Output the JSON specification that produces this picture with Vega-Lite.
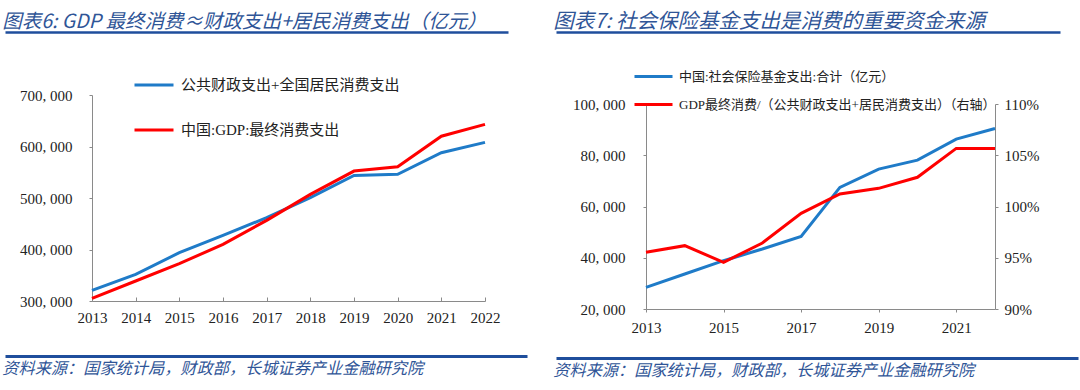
{
  "$schema": "https://vega.github.io/schema/vega-lite/v6.json",
  "background": "white",
  "padding": {"left": 2, "top": 11, "right": 5, "bottom": 0},
  "config": {
    "view": {"stroke": null},
    "axis": {"domainColor": "#8a8a8a", "tickColor": "#8a8a8a", "grid": false, "labelFont": "Liberation Serif", "labelFontSize": 15, "labelColor": "#222222", "title": null, "tickSize": 3, "labelFlush": false, "labelOverlap": false},
    "legend": {"labelFont": "Liberation Serif, Noto Sans CJK SC", "labelColor": "#222222", "symbolType": "stroke", "symbolStrokeWidth": 3, "title": null, "labelLimit": 500},
    "title": {"font": "Noto Sans CJK SC", "fontStyle": "italic", "fontWeight": "normal", "color": "#2F5597", "anchor": "start"}
  },
  "datasets": {
    "left": [
      {"year": 2013, "series": "公共财政支出+全国居民消费支出", "value": 320700},
      {"year": 2014, "series": "公共财政支出+全国居民消费支出", "value": 351800},
      {"year": 2015, "series": "公共财政支出+全国居民消费支出", "value": 393800},
      {"year": 2016, "series": "公共财政支出+全国居民消费支出", "value": 427500},
      {"year": 2017, "series": "公共财政支出+全国居民消费支出", "value": 461800},
      {"year": 2018, "series": "公共财政支出+全国居民消费支出", "value": 500600},
      {"year": 2019, "series": "公共财政支出+全国居民消费支出", "value": 543900},
      {"year": 2020, "series": "公共财政支出+全国居民消费支出", "value": 545900},
      {"year": 2021, "series": "公共财政支出+全国居民消费支出", "value": 588000},
      {"year": 2022, "series": "公共财政支出+全国居民消费支出", "value": 608000},
      {"year": 2013, "series": "中国:GDP:最终消费支出", "value": 305200},
      {"year": 2014, "series": "中国:GDP:最终消费支出", "value": 338800},
      {"year": 2015, "series": "中国:GDP:最终消费支出", "value": 372500},
      {"year": 2016, "series": "中国:GDP:最终消费支出", "value": 410000},
      {"year": 2017, "series": "中国:GDP:最终消费支出", "value": 456600},
      {"year": 2018, "series": "中国:GDP:最终消费支出", "value": 507000},
      {"year": 2019, "series": "中国:GDP:最终消费支出", "value": 552300},
      {"year": 2020, "series": "中国:GDP:最终消费支出", "value": 560700},
      {"year": 2021, "series": "中国:GDP:最终消费支出", "value": 620000},
      {"year": 2022, "series": "中国:GDP:最终消费支出", "value": 643000}
    ],
    "right_ss": [
      {"year": 2013, "series": "中国:社会保险基金支出:合计（亿元）", "value": 28450},
      {"year": 2014, "series": "中国:社会保险基金支出:合计（亿元）", "value": 33650},
      {"year": 2015, "series": "中国:社会保险基金支出:合计（亿元）", "value": 38850},
      {"year": 2016, "series": "中国:社会保险基金支出:合计（亿元）", "value": 43400},
      {"year": 2017, "series": "中国:社会保险基金支出:合计（亿元）", "value": 48350},
      {"year": 2018, "series": "中国:社会保险基金支出:合计（亿元）", "value": 67450},
      {"year": 2019, "series": "中国:社会保险基金支出:合计（亿元）", "value": 74600},
      {"year": 2020, "series": "中国:社会保险基金支出:合计（亿元）", "value": 78100},
      {"year": 2021, "series": "中国:社会保险基金支出:合计（亿元）", "value": 86300},
      {"year": 2022, "series": "中国:社会保险基金支出:合计（亿元）", "value": 90450}
    ],
    "right_ratio": [
      {"year": 2013, "series": "GDP最终消费/（公共财政支出+居民消费支出）（右轴）", "value": 0.9553},
      {"year": 2014, "series": "GDP最终消费/（公共财政支出+居民消费支出）（右轴）", "value": 0.9618},
      {"year": 2015, "series": "GDP最终消费/（公共财政支出+居民消费支出）（右轴）", "value": 0.9455},
      {"year": 2016, "series": "GDP最终消费/（公共财政支出+居民消费支出）（右轴）", "value": 0.9644},
      {"year": 2017, "series": "GDP最终消费/（公共财政支出+居民消费支出）（右轴）", "value": 0.9933},
      {"year": 2018, "series": "GDP最终消费/（公共财政支出+居民消费支出）（右轴）", "value": 1.0122},
      {"year": 2019, "series": "GDP最终消费/（公共财政支出+居民消费支出）（右轴）", "value": 1.0177},
      {"year": 2020, "series": "GDP最终消费/（公共财政支出+居民消费支出）（右轴）", "value": 1.0285},
      {"year": 2021, "series": "GDP最终消费/（公共财政支出+居民消费支出）（右轴）", "value": 1.0567},
      {"year": 2022, "series": "GDP最终消费/（公共财政支出+居民消费支出）（右轴）", "value": 1.0567}
    ],
    "anchor": [{"v": 0}]
  },
  "concat": [
    {
      "vconcat": [
        {
          "width": 416, "height": 28,
          "title": {"text": "图表6:  GDP 最终消费≈财政支出+居民消费支出（亿元）", "fontSize": 19.5, "offset": 0},
          "data": {"name": "anchor"},
          "mark": {"type": "point", "opacity": 0},
          "encoding": {"x": {"field": "v", "type": "quantitative", "scale": {"domain": [0, 1], "range": [-87, 416]}, "axis": {"orient": "top", "domainColor": "#1F4E9C", "domainWidth": 2.5, "labels": false, "ticks": false}}}
        },
        {
          "width": 393, "height": 206,
          "data": {"name": "left"},
          "mark": {"type": "line", "strokeWidth": 3},
          "encoding": {
            "x": {"field": "year", "type": "quantitative", "scale": {"domain": [2013, 2022], "nice": false, "zero": false}, "axis": {"values": [2013, 2014, 2015, 2016, 2017, 2018, 2019, 2020, 2021, 2022], "format": "d", "tickSize": -4, "labelPadding": 13}},
            "y": {"field": "value", "type": "quantitative", "scale": {"domain": [300000, 700000], "nice": false, "zero": false}, "axis": {"values": [300000, 400000, 500000, 600000, 700000], "labelExpr": "replace(format(datum.value, ','), ',', ', ')", "labelPadding": 17, "minExtent": 87}},
            "color": {"field": "series", "type": "nominal", "scale": {"domain": ["公共财政支出+全国居民消费支出", "中国:GDP:最终消费支出"], "range": ["#1F7BC8", "#FF0000"]}, "legend": {"orient": "none", "legendX": 41, "legendY": 32, "symbolSize": 1521, "labelFontSize": 15, "rowPadding": 16, "labelOffset": 6}}
          }
        },
        {
          "width": 435, "height": 1,
          "title": {"text": "资料来源：国家统计局，财政部，长城证券产业金融研究院", "orient": "bottom", "fontSize": 16.2, "offset": 2},
          "data": {"name": "anchor"},
          "mark": {"type": "point", "opacity": 0},
          "encoding": {"x": {"field": "v", "type": "quantitative", "scale": {"domain": [0, 1], "range": [-87, 435]}, "axis": {"orient": "top", "domainColor": "#1F4E9C", "domainWidth": 3, "labels": false, "ticks": false}}}
        }
      ],
      "spacing": 28
    },
    {
      "vconcat": [
        {
          "width": 414, "height": 45,
          "title": {"text": "图表7:  社会保险基金支出是消费的重要资金来源", "fontSize": 20.5, "offset": 0},
          "data": {"name": "anchor"},
          "mark": {"type": "point", "opacity": 0},
          "encoding": {"x": {"field": "v", "type": "quantitative", "scale": {"domain": [0, 1], "range": [-90, 414]}, "axis": {"orient": "top", "domainColor": "#1F4E9C", "domainWidth": 2.5, "labels": false, "ticks": false}}}
        },
        {
          "width": 349, "height": 205,
          "layer": [
            {
              "data": {"name": "right_ss"},
              "mark": {"type": "line", "strokeWidth": 3},
              "encoding": {
                "x": {"field": "year", "type": "quantitative", "scale": {"domain": [2013, 2022], "nice": false, "zero": false}, "axis": {"values": [2013, 2015, 2017, 2019, 2021], "format": "d", "labelPadding": 8}},
                "y": {"field": "value", "type": "quantitative", "scale": {"domain": [20000, 100000], "nice": false, "zero": false}, "axis": {"values": [20000, 40000, 60000, 80000, 100000], "labelExpr": "replace(format(datum.value, ','), ',', ', ')", "labelPadding": 18, "minExtent": 90}},
                "color": {"field": "series", "type": "nominal", "scale": {"domain": ["中国:社会保险基金支出:合计（亿元）", "GDP最终消费/（公共财政支出+居民消费支出）（右轴）"], "range": ["#1F7BC8", "#FF0000"]}, "legend": {"orient": "none", "legendX": -13, "legendY": 24, "symbolSize": 1444, "labelFontSize": 13, "rowPadding": -5, "labelOffset": 5}}
              }
            },
            {
              "data": {"name": "right_ratio"},
              "mark": {"type": "line", "strokeWidth": 3},
              "encoding": {
                "x": {"field": "year", "type": "quantitative"},
                "y": {"field": "value", "type": "quantitative", "scale": {"domain": [0.9, 1.1], "nice": false, "zero": false}, "axis": {"orient": "right", "values": [0.9, 0.95, 1.0, 1.05, 1.1], "format": ".0%", "labelPadding": 6}},
                "color": {"field": "series", "type": "nominal"}
              }
            }
          ],
          "resolve": {"scale": {"y": "independent"}}
        },
        {
          "width": 432, "height": 1,
          "title": {"text": "资料来源：国家统计局，财政部，长城证券产业金融研究院", "orient": "bottom", "fontSize": 16.2, "offset": 2},
          "data": {"name": "anchor"},
          "mark": {"type": "point", "opacity": 0},
          "encoding": {"x": {"field": "v", "type": "quantitative", "scale": {"domain": [0, 1], "range": [-90, 432]}, "axis": {"orient": "top", "domainColor": "#1F4E9C", "domainWidth": 3, "labels": false, "ticks": false}}}
        }
      ],
      "spacing": 20
    }
  ],
  "columns": 2,
  "align": "none",
  "spacing": -61,
  "resolve": {"scale": {"color": "independent", "x": "independent"}, "legend": {"color": "independent"}}
}
